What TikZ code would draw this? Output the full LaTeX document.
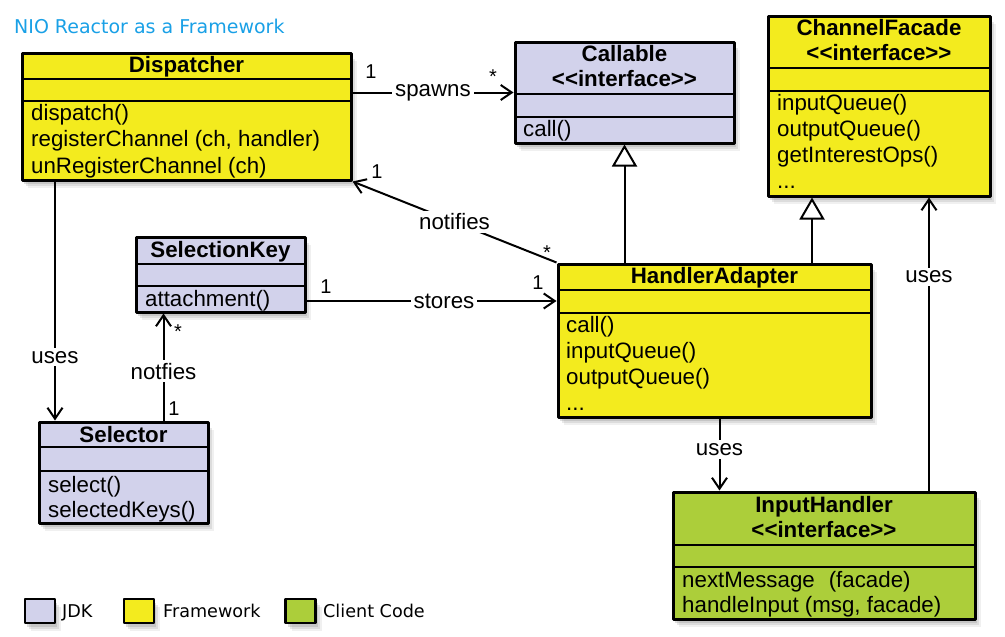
\documentclass[tikz,border=0pt]{standalone}
\usepackage{fontspec}
\setmainfont{Liberation Sans}
\newfontfamily\legendfont{DejaVu Sans}
\usetikzlibrary{arrows.meta,shadows}
\definecolor{jdk}{RGB}{210,210,235}
\definecolor{fw}{RGB}{243,235,30}
\definecolor{client}{RGB}{172,206,58}
\definecolor{ttlblue}{RGB}{25,160,230}
\newcommand{\stereo}{<\kern0pt<interface>\kern0pt>}
\tikzset{
  soft/.style={drop shadow={shadow xshift=6pt, shadow yshift=-8pt, opacity=.12},
    drop shadow={shadow xshift=4pt, shadow yshift=-6pt, opacity=.18},
    drop shadow={shadow xshift=2pt, shadow yshift=-4pt, opacity=.25}},
  cls/.style={draw, line width=3pt, inner sep=0pt, soft},
  sep/.style={line width=2.2pt},
  hd/.style={anchor=base, inner sep=0pt, font=\fontsize{22.3}{26}\selectfont\bfseries},
  op/.style={anchor=base west, inner sep=0pt, font=\fontsize{22.3}{26}\selectfont},
  lbl/.style={fill=white, inner sep=3pt, font=\fontsize{22.3}{26}\selectfont},
  mult/.style={anchor=base, inner sep=0pt, font=\fontsize{20}{24}\selectfont},
  assoc/.style={line width=2pt, -{Straight Barb[length=11pt, width=15pt]}},
  inh/.style={line width=2pt, -{Triangle[open, length=22pt, width=25pt, fill=white]}},
  key/.style={draw, line width=2.2pt, inner sep=0pt, minimum width=30, minimum height=24, soft},
  keytext/.style={anchor=base west, inner sep=0pt, font=\legendfont\fontsize{17.6}{20}\selectfont}
}
\begin{document}
\begin{tikzpicture}[x=1pt, y=-1pt, line join=round]
\useasboundingbox (0,0) rectangle (1005,637);
\node[anchor=base west, inner sep=0pt, text=ttlblue, font=\legendfont\fontsize{19}{22}\selectfont] (title) at (14,34) {NIO Reactor as a Framework};

% Dispatcher
\node[cls, fill=fw, minimum width=329, minimum height=127] (disp) at (186.5,116.5) {};
\draw[sep] (22,79) -- (351,79) (22,101) -- (351,101);
\node[hd] (disp-t) at (186.5,72) {Dispatcher};
\foreach \m [count=\i from 0] in {dispatch(), {registerChannel (ch, handler)}, {unRegisterChannel (ch)}}
  \node[op] (disp-\i) at (31,120+26.5*\i) {\m};

% Callable
\node[cls, fill=jdk, minimum width=219, minimum height=101] (call) at (624.5,92.5) {};
\draw[sep] (515,94) -- (734,94) (515,117) -- (734,117);
\node[hd] (call-t) at (624.5,61) {Callable};
\node[hd] (call-s) at (624.5,86) {\stereo};
\node[op] (call-0) at (523,136) {call()};

% ChannelFacade
\node[cls, fill=fw, minimum width=222, minimum height=180] (cf) at (879,106) {};
\draw[sep] (768,68) -- (990,68) (768,91) -- (990,91);
\node[hd] (cf-t) at (879,35) {ChannelFacade};
\node[hd] (cf-s) at (879,60) {\stereo};
\foreach \m [count=\i from 0] in {inputQueue(), outputQueue(), getInterestOps(), {.{}.{}.}}
  \node[op] (cf-\i) at (777,110+26.3*\i) {\m};

% SelectionKey
\node[cls, fill=jdk, minimum width=169, minimum height=75] (sk) at (220.5,274.5) {};
\draw[sep] (136,264) -- (305,264) (136,286) -- (305,286);
\node[hd] (sk-t) at (220.5,257) {SelectionKey};
\node[op] (sk-0) at (145,306) {attachment()};

% Selector
\node[cls, fill=jdk, minimum width=169, minimum height=101] (sel) at (123.5,472.5) {};
\draw[sep] (39,447) -- (208,447) (39,471) -- (208,471);
\node[hd] (sel-t) at (123.5,442) {Selector};
\foreach \m [count=\i from 0] in {select(), selectedKeys()}
  \node[op] (sel-\i) at (48,492+25*\i) {\m};

% HandlerAdapter
\node[cls, fill=fw, minimum width=313, minimum height=153] (ha) at (714.5,340.5) {};
\draw[sep] (558,290) -- (871,290) (558,313) -- (871,313);
\node[hd] (ha-t) at (714.5,283) {HandlerAdapter};
\foreach \m [count=\i from 0] in {call(), inputQueue(), outputQueue(), {.{}.{}.}}
  \node[op] (ha-\i) at (566,332+26*\i) {\m};

% InputHandler
\node[cls, fill=client, minimum width=302, minimum height=127] (ih) at (824,555.5) {};
\draw[sep] (673,545) -- (975,545) (673,567) -- (975,567);
\node[hd] (ih-t) at (824,512) {InputHandler};
\node[hd] (ih-s) at (824,537) {\stereo};
\node[op] (ih-0) at (682,587) {nextMessage\hspace{14pt}(facade)};
\node[op] (ih-1) at (682,612) {handleInput (msg, facade)};

% connectors
\draw[assoc] (disp.east |- call.west) -- node[lbl] {spawns} (call.west);
\draw[assoc] (ha.north west) -- node[lbl] {notifies} (disp.south east);
\draw[inh] (call.south |- ha.north) -- (call.south);
\draw[inh] ([xshift=-67pt]cf.south |- ha.north) -- ([xshift=-67pt]cf.south);
\draw[assoc] ([xshift=50pt]cf.south |- ih.north) -- node[lbl, pos=.73] {uses} ([xshift=50pt]cf.south);
\draw[assoc] ([xshift=5pt]ha.south) -- node[lbl, pos=.43] {uses} ([xshift=5pt]ha.south |- ih.north);
\draw[assoc] ([yshift=-26.5pt]sk.east) -- node[lbl, pos=.55] {stores} ([yshift=-26.5pt]sk.east -| ha.west);
\draw[assoc] ([xshift=40pt]sel.north) -- node[lbl, pos=.46] {notfies} ([xshift=40pt]sel.north |- sk.south);
\draw[assoc] ([xshift=-68.5pt]sel.north |- disp.south) -- node[lbl, pos=.735] {uses} ([xshift=-68.5pt]sel.north);

% multiplicities
\node[mult] (m1) at (371,78) {1};
\node[mult] (m2) at (493,83) {*};
\node[mult] (m3) at (377,178) {1};
\node[mult] (m4) at (547,259) {*};
\node[mult] (m5) at (326,293) {1};
\node[mult] (m6) at (538,289) {1};
\node[mult] (m7) at (178,338) {*};
\node[mult] (m8) at (174,415) {1};

% legend
\node[key, fill=jdk] (k-jdk) at (40,611) {};
\node[keytext] (t-jdk) at (62,617) {JDK};
\node[key, fill=fw] (k-fw) at (139,611) {};
\node[keytext] (t-fw) at (163,617) {Framework};
\node[key, fill=client] (k-cl) at (300.5,611) {};
\node[keytext] (t-cl) at (323,617) {Client Code};
\end{tikzpicture}
\end{document}
